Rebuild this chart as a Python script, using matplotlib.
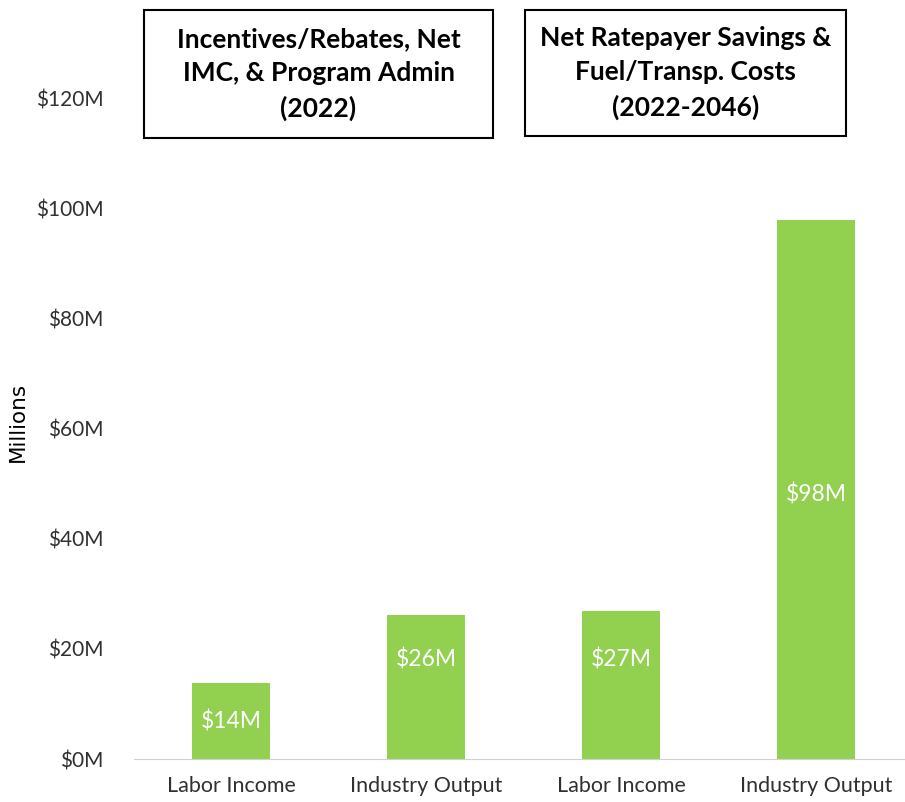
import numpy as np
import matplotlib.pyplot as plt
from matplotlib.patches import Rectangle

categories = ['Labor Income', 'Industry Output', 'Labor Income', 'Industry Output']
values = [13.8, 26.2, 26.9, 98.0]
labels = ['$14M', '$26M', '$27M', '$98M']
label_frac = [0.5, 0.69, 0.67, 0.49]
yticks = [0, 20, 40, 60, 80, 100, 120]
titles = ['Incentives/Rebates, Net\nIMC, & Program Admin\n(2022)',
          'Net Ratepayer Savings &\nFuel/Transp. Costs\n(2022-2046)']

plt.rcParams['font.family'] = ['Lato', 'DejaVu Sans']
fig = plt.figure(figsize=(9.05, 8.02), dpi=100)
ax = fig.add_axes([134/905, 43/802, 771/905, 740/802])

x = np.arange(len(values))
ax.bar(x, values, width=0.4, color='#92d050')
for xi, v, lab, f in zip(x, values, labels, label_frac):
    ax.text(xi, v*f, lab, ha='center', va='center', color='white', fontsize=16.5)

ax.set_xlim(-0.5, 3.455)
ax.set_ylim(0, 134.5)
ax.set_yticks(yticks)
ax.set_yticklabels(['$%dM' % t for t in yticks], fontsize=15, color='#303030')
ax.set_xticks(x)
ax.set_xticklabels(categories, fontsize=15.5, color='#303030')
ax.tick_params(axis='x', length=0, pad=12)
ax.tick_params(axis='y', length=0, pad=22)
for s in ['top', 'right', 'left']:
    ax.spines[s].set_visible(False)
ax.spines['bottom'].set_color('#d0d0d0')
ax.set_ylabel('Millions', fontsize=15.5, family='DejaVu Sans')
ax.yaxis.set_label_coords(-0.138, 0.455)

# title boxes
for (x0, y0, w, h), t in zip([(144, 10, 349, 128), (525, 10, 321, 126)], titles):
    fig.add_artist(Rectangle((x0/905, 1 - (y0+h)/802), w/905, h/802,
                             transform=fig.transFigure, fill=False, ec='black', lw=1.5))
    fig.text((x0 + w/2)/905, 1 - (y0 + h/2)/802, t, ha='center', va='center',
             fontsize=19, fontweight='bold', linespacing=1.5)

fig.savefig('out.png', dpi=100)
